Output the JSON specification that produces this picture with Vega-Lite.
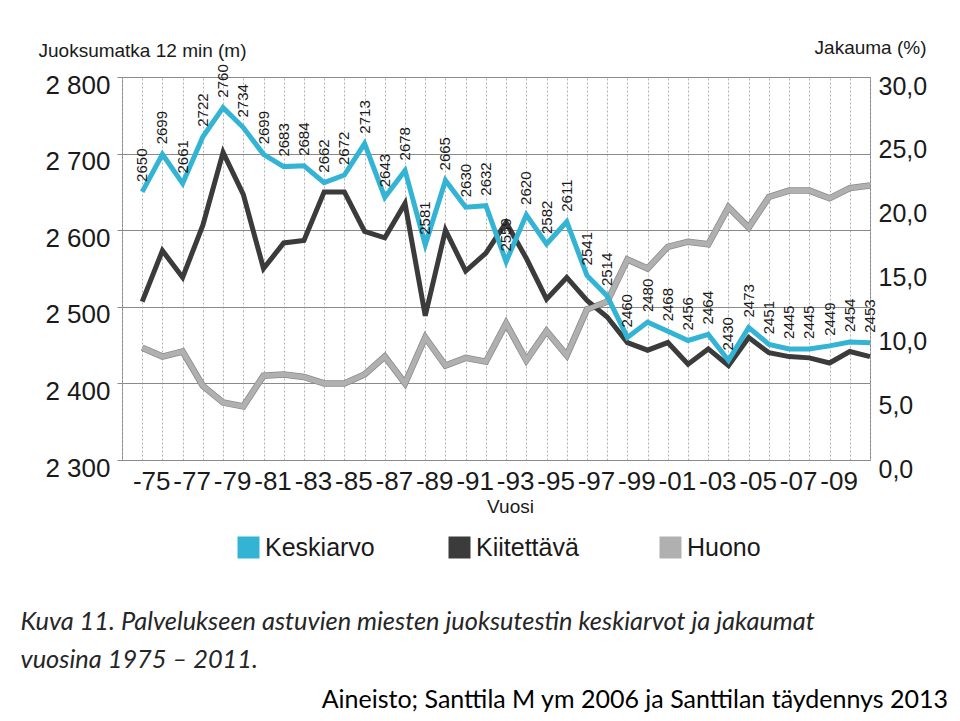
{
  "$schema": "https://vega.github.io/schema/vega-lite/v6.json",
  "width": 748,
  "height": 383,
  "autosize": {"type": "none"},
  "padding": {"left": 122, "top": 77, "right": 90, "bottom": 261},
  "background": "white",
  "datasets": {
    "avg": [
      {"year": 1975, "value": 2650, "series": "Keskiarvo"},
      {"year": 1976, "value": 2699, "series": "Keskiarvo"},
      {"year": 1977, "value": 2661, "series": "Keskiarvo"},
      {"year": 1978, "value": 2722, "series": "Keskiarvo"},
      {"year": 1979, "value": 2760, "series": "Keskiarvo"},
      {"year": 1980, "value": 2734, "series": "Keskiarvo"},
      {"year": 1981, "value": 2699, "series": "Keskiarvo"},
      {"year": 1982, "value": 2683, "series": "Keskiarvo"},
      {"year": 1983, "value": 2684, "series": "Keskiarvo"},
      {"year": 1984, "value": 2662, "series": "Keskiarvo"},
      {"year": 1985, "value": 2672, "series": "Keskiarvo"},
      {"year": 1986, "value": 2713, "series": "Keskiarvo"},
      {"year": 1987, "value": 2643, "series": "Keskiarvo"},
      {"year": 1988, "value": 2678, "series": "Keskiarvo"},
      {"year": 1989, "value": 2581, "series": "Keskiarvo"},
      {"year": 1990, "value": 2665, "series": "Keskiarvo"},
      {"year": 1991, "value": 2630, "series": "Keskiarvo"},
      {"year": 1992, "value": 2632, "series": "Keskiarvo"},
      {"year": 1993, "value": 2559, "series": "Keskiarvo"},
      {"year": 1994, "value": 2620, "series": "Keskiarvo"},
      {"year": 1995, "value": 2582, "series": "Keskiarvo"},
      {"year": 1996, "value": 2611, "series": "Keskiarvo"},
      {"year": 1997, "value": 2541, "series": "Keskiarvo"},
      {"year": 1998, "value": 2514, "series": "Keskiarvo"},
      {"year": 1999, "value": 2460, "series": "Keskiarvo"},
      {"year": 2000, "value": 2480, "series": "Keskiarvo"},
      {"year": 2001, "value": 2468, "series": "Keskiarvo"},
      {"year": 2002, "value": 2456, "series": "Keskiarvo"},
      {"year": 2003, "value": 2464, "series": "Keskiarvo"},
      {"year": 2004, "value": 2430, "series": "Keskiarvo"},
      {"year": 2005, "value": 2473, "series": "Keskiarvo"},
      {"year": 2006, "value": 2451, "series": "Keskiarvo"},
      {"year": 2007, "value": 2445, "series": "Keskiarvo"},
      {"year": 2008, "value": 2445, "series": "Keskiarvo"},
      {"year": 2009, "value": 2449, "series": "Keskiarvo"},
      {"year": 2010, "value": 2454, "series": "Keskiarvo"},
      {"year": 2011, "value": 2453, "series": "Keskiarvo"}
    ],
    "pct": [
      {"year": 1975, "series": "Kiitettävä", "value": 12.4},
      {"year": 1976, "series": "Kiitettävä", "value": 16.4},
      {"year": 1977, "series": "Kiitettävä", "value": 14.3},
      {"year": 1978, "series": "Kiitettävä", "value": 18.4},
      {"year": 1979, "series": "Kiitettävä", "value": 24.1},
      {"year": 1980, "series": "Kiitettävä", "value": 20.8},
      {"year": 1981, "series": "Kiitettävä", "value": 15.0},
      {"year": 1982, "series": "Kiitettävä", "value": 17.0},
      {"year": 1983, "series": "Kiitettävä", "value": 17.2},
      {"year": 1984, "series": "Kiitettävä", "value": 21.0},
      {"year": 1985, "series": "Kiitettävä", "value": 21.0},
      {"year": 1986, "series": "Kiitettävä", "value": 17.9},
      {"year": 1987, "series": "Kiitettävä", "value": 17.4},
      {"year": 1988, "series": "Kiitettävä", "value": 20.1},
      {"year": 1989, "series": "Kiitettävä", "value": 11.3},
      {"year": 1990, "series": "Kiitettävä", "value": 18.0},
      {"year": 1991, "series": "Kiitettävä", "value": 14.8},
      {"year": 1992, "series": "Kiitettävä", "value": 16.2},
      {"year": 1993, "series": "Kiitettävä", "value": 18.6},
      {"year": 1994, "series": "Kiitettävä", "value": 15.8},
      {"year": 1995, "series": "Kiitettävä", "value": 12.6},
      {"year": 1996, "series": "Kiitettävä", "value": 14.3},
      {"year": 1997, "series": "Kiitettävä", "value": 12.5},
      {"year": 1998, "series": "Kiitettävä", "value": 11.2},
      {"year": 1999, "series": "Kiitettävä", "value": 9.2},
      {"year": 2000, "series": "Kiitettävä", "value": 8.6},
      {"year": 2001, "series": "Kiitettävä", "value": 9.2},
      {"year": 2002, "series": "Kiitettävä", "value": 7.5},
      {"year": 2003, "series": "Kiitettävä", "value": 8.7},
      {"year": 2004, "series": "Kiitettävä", "value": 7.4},
      {"year": 2005, "series": "Kiitettävä", "value": 9.6},
      {"year": 2006, "series": "Kiitettävä", "value": 8.4},
      {"year": 2007, "series": "Kiitettävä", "value": 8.1},
      {"year": 2008, "series": "Kiitettävä", "value": 8.0},
      {"year": 2009, "series": "Kiitettävä", "value": 7.6},
      {"year": 2010, "series": "Kiitettävä", "value": 8.5},
      {"year": 2011, "series": "Kiitettävä", "value": 8.1},
      {"year": 1975, "series": "Huono", "value": 8.8},
      {"year": 1976, "series": "Huono", "value": 8.1},
      {"year": 1977, "series": "Huono", "value": 8.5},
      {"year": 1978, "series": "Huono", "value": 5.8},
      {"year": 1979, "series": "Huono", "value": 4.5},
      {"year": 1980, "series": "Huono", "value": 4.2},
      {"year": 1981, "series": "Huono", "value": 6.6},
      {"year": 1982, "series": "Huono", "value": 6.7},
      {"year": 1983, "series": "Huono", "value": 6.5},
      {"year": 1984, "series": "Huono", "value": 6.0},
      {"year": 1985, "series": "Huono", "value": 6.0},
      {"year": 1986, "series": "Huono", "value": 6.7},
      {"year": 1987, "series": "Huono", "value": 8.1},
      {"year": 1988, "series": "Huono", "value": 6.0},
      {"year": 1989, "series": "Huono", "value": 9.6},
      {"year": 1990, "series": "Huono", "value": 7.4},
      {"year": 1991, "series": "Huono", "value": 8.0},
      {"year": 1992, "series": "Huono", "value": 7.7},
      {"year": 1993, "series": "Huono", "value": 10.7},
      {"year": 1994, "series": "Huono", "value": 7.8},
      {"year": 1995, "series": "Huono", "value": 10.1},
      {"year": 1996, "series": "Huono", "value": 8.2},
      {"year": 1997, "series": "Huono", "value": 11.8},
      {"year": 1998, "series": "Huono", "value": 12.4},
      {"year": 1999, "series": "Huono", "value": 15.7},
      {"year": 2000, "series": "Huono", "value": 15.0},
      {"year": 2001, "series": "Huono", "value": 16.7},
      {"year": 2002, "series": "Huono", "value": 17.1},
      {"year": 2003, "series": "Huono", "value": 16.9},
      {"year": 2004, "series": "Huono", "value": 19.8},
      {"year": 2005, "series": "Huono", "value": 18.2},
      {"year": 2006, "series": "Huono", "value": 20.6},
      {"year": 2007, "series": "Huono", "value": 21.1},
      {"year": 2008, "series": "Huono", "value": 21.1},
      {"year": 2009, "series": "Huono", "value": 20.5},
      {"year": 2010, "series": "Huono", "value": 21.3},
      {"year": 2011, "series": "Huono", "value": 21.5}
    ]
  },
  "title": {
    "text": "Aineisto; Santtila M ym 2006 ja Santtilan täydennys 2013",
    "orient": "bottom",
    "anchor": "end",
    "frame": "group",
    "dx": 78,
    "offset": 16,
    "font": "Lato",
    "fontSize": 25,
    "fontWeight": "normal",
    "color": "#000000"
  },
  "layer": [
    {
      "data": {"name": "pct"},
      "layer": [
        {
          "transform": [{"filter": "datum.series == 'Huono'"}],
          "mark": {"type": "line", "strokeWidth": 6.5, "color": "#8a8a8a"},
          "encoding": {
            "x": {
              "field": "year",
              "type": "quantitative",
              "scale": {"domain": [1974, 2011], "nice": false, "zero": false},
              "axis": {
                "orient": "top",
                "values": [1974, 1975, 1976, 1977, 1978, 1979, 1980, 1981, 1982, 1983, 1984, 1985, 1986, 1987, 1988, 1989, 1990, 1991, 1992, 1993, 1994, 1995, 1996, 1997, 1998, 1999, 2000, 2001, 2002, 2003, 2004, 2005, 2006, 2007, 2008, 2009, 2010, 2011],
                "tickCount": 60,
                "labels": false,
                "ticks": false,
                "domain": false,
                "grid": true,
                "gridColor": "#b0b0b0",
                "gridDash": [2, 2],
                "gridWidth": 1,
                "title": ["Kuva 11. Palvelukseen astuvien miesten juoksutestin keskiarvot ja jakaumat", "vuosina 1975 – 2011."],
                "titleX": -102,
                "titleY": 532,
                "titleAlign": "left",
                "titleBaseline": "top",
                "titleAngle": 0,
                "titleFont": "Lato",
                "titleFontStyle": "italic",
                "titleFontWeight": "normal",
                "titleFontSize": 25.4,
                "titleColor": "#262626",
                "titleLineHeight": 38,
                "titleLimit": 1000
              }
            },
            "y": {
              "field": "value",
              "type": "quantitative",
              "scale": {"domain": [0, 30], "nice": false, "zero": false},
              "axis": {
                "orient": "right",
                "values": [0, 5, 10, 15, 20, 25, 30],
                "grid": false,
                "ticks": false,
                "domain": false,
                "labelExpr": "replace(format(datum.value, '.1f'), '.', ',')",
                "labelFontSize": 25,
                "labelFont": "Liberation Sans",
                "labelColor": "#1a1a1a",
                "labelPadding": 8,
                "labelOffset": 9,
                "labelFlush": false,
                "title": "Jakauma (%)",
                "titleAngle": 0,
                "titleAlign": "right",
                "titleBaseline": "middle",
                "titleX": 56,
                "titleY": -30,
                "titleFontSize": 19,
                "titleFontWeight": "normal",
                "titleFont": "Liberation Sans",
                "titleColor": "#1a1a1a"
              }
            }
          }
        },
        {
          "mark": {"type": "line", "strokeWidth": 5},
          "encoding": {
            "x": {"field": "year", "type": "quantitative"},
            "y": {"field": "value", "type": "quantitative"},
            "color": {
              "field": "series",
              "type": "nominal",
              "scale": {"domain": ["Keskiarvo", "Kiitettävä", "Huono"], "range": ["#33b4d5", "#3b3b3b", "#b0b0b0"]},
              "legend": {
                "orient": "none",
                "legendX": 114,
                "legendY": 458,
                "direction": "horizontal",
                "title": null,
                "symbolType": "square",
                "symbolSize": 121,
                "symbolStrokeWidth": 11,
                "labelFontSize": 25,
                "labelFont": "Liberation Sans",
                "labelColor": "#1a1a1a",
                "labelOffset": 4,
                "labelLimit": 300,
                "columnPadding": 57,
                "gridAlign": "all",
                "padding": 0
              }
            }
          }
        }
      ]
    },
    {
      "data": {"name": "avg"},
      "layer": [
        {
          "mark": {"type": "line", "strokeWidth": 5},
          "encoding": {
            "x": {
              "field": "year",
              "type": "quantitative",
              "scale": {"domain": [1974, 2011], "nice": false, "zero": false},
              "axis": {
                "orient": "bottom",
                "values": [1975, 1977, 1979, 1981, 1983, 1985, 1987, 1989, 1991, 1993, 1995, 1997, 1999, 2001, 2003, 2005, 2007, 2009],
                "tickCount": 30,
                "grid": false,
                "ticks": false,
                "domain": false,
                "labelExpr": "'-' + format(datum.value % 100, '02d')",
                "labelFontSize": 26,
                "labelFont": "Liberation Sans",
                "labelColor": "#1a1a1a",
                "labelPadding": 8,
                "labelFlush": false,
                "labelOverlap": false,
                "labelBound": false,
                "labelOffset": 9,
                "title": "Vuosi",
                "titleX": 388,
                "titleY": 46,
                "titleAlign": "center",
                "titleBaseline": "middle",
                "titleFontSize": 19,
                "titleFontWeight": "normal",
                "titleFont": "Liberation Sans",
                "titleColor": "#1a1a1a"
              }
            },
            "y": {
              "field": "value",
              "type": "quantitative",
              "scale": {"domain": [2300, 2800], "nice": false, "zero": false},
              "axis": {
                "orient": "left",
                "values": [2300, 2400, 2500, 2600, 2700, 2800],
                "grid": true,
                "gridColor": "#8a8a8a",
                "gridWidth": 1,
                "ticks": true,
                "tickSize": 5,
                "tickColor": "#8a8a8a",
                "domain": false,
                "labelExpr": "replace(format(datum.value, ','), ',', ' ')",
                "labelFontSize": 26,
                "labelFont": "Liberation Sans",
                "labelColor": "#1a1a1a",
                "labelPadding": 7,
                "labelOffset": 8,
                "labelFlush": false,
                "title": "Juoksumatka 12 min (m)",
                "titleAngle": 0,
                "titleAlign": "left",
                "titleBaseline": "middle",
                "titleX": -84,
                "titleY": -27,
                "titleFontSize": 19,
                "titleFontWeight": "normal",
                "titleFont": "Liberation Sans",
                "titleColor": "#1a1a1a"
              }
            },
            "color": {"field": "series", "type": "nominal"}
          }
        },
        {
          "mark": {"type": "text", "angle": 270, "align": "left", "baseline": "middle", "dx": 10, "fontSize": 15, "font": "Liberation Sans", "color": "#1a1a1a"},
          "encoding": {
            "x": {"field": "year", "type": "quantitative"},
            "y": {"field": "value", "type": "quantitative"},
            "text": {"field": "value", "type": "quantitative", "format": "d"}
          }
        }
      ]
    }
  ],
  "resolve": {"scale": {"x": "independent", "y": "independent"}},
  "config": {
    "view": {"stroke": "#808080", "strokeWidth": 1},
    "font": "Liberation Sans"
  }
}
